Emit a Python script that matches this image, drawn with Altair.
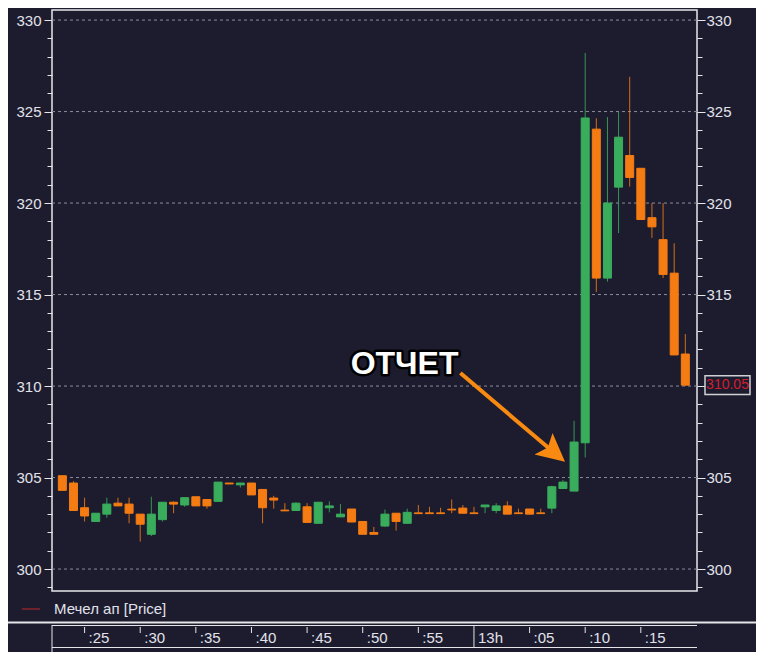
import altair as alt
import pandas as pd

BG = "#1c1c2e"
FRAME = "#e6e6ea"
GRID = "#8c8c9c"
GREEN = "#3aad5c"
ORANGE = "#f57c13"
ARROW = "#f88a12"
LABEL = "#e2e2ea"
PRICE_RED = "#d21f2e"
FONT = "Liberation Sans"

# ---- data (1-minute candles, minutes after 12:00) ----
minutes = list(range(23, 80))
opens = [305.10, 304.70, 303.35, 302.60, 303.00, 303.60, 303.55, 303.00, 301.90, 302.70,
         303.65, 303.50, 303.95, 303.80, 303.70, 304.70, 304.60, 304.70, 304.35, 303.88,
         303.22, 303.20, 303.40, 302.50, 303.35, 302.85, 303.28, 302.60, 302.00, 302.35,
         303.05, 302.50, 303.07, 303.07, 303.07, 303.27, 303.33, 303.07, 303.40, 303.20,
         303.45, 303.07, 303.28, 303.07, 303.33, 304.40, 304.26, 306.90, 324.04, 315.90,
         320.87, 322.60, 321.90, 319.20, 318.00, 316.17, 311.75]
highs = [305.10, 304.80, 303.90, 303.05, 303.90, 303.90, 303.90, 303.00, 303.95, 303.65,
         303.70, 303.90, 303.95, 303.80, 304.75, 304.70, 304.70, 304.70, 304.35, 304.00,
         303.60, 303.65, 303.60, 303.65, 303.70, 303.55, 303.28, 302.60, 302.30, 303.25,
         303.05, 303.30, 303.50, 303.40, 303.35, 303.80, 303.50, 303.40, 303.50, 303.60,
         303.70, 303.30, 303.28, 303.30, 304.55, 304.86, 308.10, 328.20, 324.64, 324.70,
         325.00, 326.90, 321.90, 320.00, 320.00, 317.80, 312.84]
lows = [304.30, 303.20, 302.60, 302.60, 302.80, 303.45, 302.50, 301.50, 301.80, 302.60,
        303.05, 303.40, 303.45, 303.30, 303.70, 304.65, 304.45, 304.05, 302.50, 303.30,
        303.18, 303.20, 302.55, 302.50, 303.10, 302.85, 302.57, 301.90, 301.90, 302.30,
        302.10, 302.50, 303.03, 303.03, 303.03, 303.05, 303.05, 303.03, 303.05, 303.05,
        303.00, 303.03, 303.00, 303.03, 303.05, 304.40, 304.26, 306.10, 315.14, 315.70,
        318.36, 320.90, 319.10, 318.10, 315.90, 311.70, 310.00]
closes = [304.30, 303.20, 302.90, 303.05, 303.55, 303.45, 303.05, 302.45, 303.00, 303.65,
          303.55, 303.90, 303.45, 303.45, 304.75, 304.65, 304.70, 304.05, 303.35, 303.77,
          303.18, 303.60, 302.55, 303.65, 303.45, 303.00, 302.57, 301.90, 301.90, 303.00,
          302.60, 303.10, 303.03, 303.03, 303.03, 303.23, 303.05, 303.03, 303.50, 303.45,
          303.00, 303.03, 303.00, 303.03, 304.50, 304.75, 306.94, 324.65, 315.90, 320.00,
          323.60, 321.40, 319.10, 318.70, 316.10, 311.70, 310.05]

tick_minutes = [25, 30, 35, 40, 45, 50, 55, 60, 65, 70, 75]
tick_labels = [":25", ":30", ":35", ":40", ":45", ":50", ":55", "13h", ":05", ":10", ":15"]
grid_levels = [300, 305, 310, 315, 320, 325, 330]
axis_ticks = list(range(299, 331))

annotation_text = "ОТЧЕТ"
legend_label = "Мечел ап [Price]"

# ---- tables ----
df = pd.DataFrame({"m": minutes, "open": opens, "high": highs, "low": lows, "close": closes})
df["dir"] = ["up" if c >= o else "down" for o, c in zip(opens, closes)]
grid_df = pd.DataFrame({"p": grid_levels})
ticks_df = pd.DataFrame({"m": tick_minutes, "label": tick_labels})
last_df = pd.DataFrame({"p": [closes[-1]], "lbl": [f"{closes[-1]:.2f}"]})
ann_df = pd.DataFrame({"m": [53.76], "p": [311.23], "t": [annotation_text]})
arrow_df = pd.DataFrame({"m": [58.78, 67.22], "p": [310.71, 306.35]})
head_df = pd.DataFrame({"m": [67.22], "p": [306.35]})
legend_df = pd.DataFrame({"t": [legend_label]})
one = pd.DataFrame({"k": [0]})
covered_level = int(round(closes[-1] / 5) * 5)   # right-axis label hidden by the price tag

xs = alt.Scale(domain=[22.52, 79.6], nice=False, zero=False)
ys = alt.Scale(domain=[298.8, 330.55], nice=False, zero=False)
X = alt.X("m:Q", scale=xs, axis=None, title=None)
dir_scale = alt.Scale(domain=["up", "down"], range=[GREEN, ORANGE])

major = "datum.value % 5 === 0"
common_axis = dict(
    values=axis_ticks, format="d",
    tickSize={"condition": {"test": major, "value": 8}, "value": 5},
    tickColor=FRAME, tickWidth=1, labelColor=LABEL, labelFont=FONT, labelFontSize=15,
    domain=False, grid=False, labelOverlap=False, labelFlush=False, title=None,
)
left_axis = alt.Axis(orient="left", labelPadding=3,
                     labelExpr=f"{major} ? datum.label : ''", **common_axis)
right_axis = alt.Axis(orient="right", labelPadding=1,
                      labelExpr=f"{major} && datum.value !== {covered_level} ? datum.label : ''",
                      **common_axis)

grid = alt.Chart(grid_df).mark_rule(color=GRID, strokeWidth=1, strokeDash=[3, 3]).encode(
    y=alt.Y("p:Q", scale=ys, axis=None, title=None))

wicks = alt.Chart(df).mark_rule(strokeWidth=1, opacity=0.85).encode(
    x=X,
    y=alt.Y("low:Q", scale=ys, axis=None, title=None),
    y2="high:Q",
    color=alt.Color("dir:N", scale=dir_scale, legend=None),
)
bodies = alt.Chart(df).mark_bar(size=8, strokeWidth=1).encode(
    x=X,
    y=alt.Y("open:Q", scale=ys, axis=None, title=None),
    y2="close:Q",
    color=alt.Color("dir:N", scale=dir_scale, legend=None),
    stroke=alt.Stroke("dir:N", scale=dir_scale, legend=None),
)

arrow_line = alt.Chart(arrow_df).mark_line(color=ARROW, strokeWidth=4, strokeCap="butt").encode(
    x=X, y=alt.Y("p:Q", scale=ys, axis=None, title=None))
arrow_head = alt.Chart(head_df).mark_point(
    shape="M0,-1L1,1L0,0.6L-1,1Z", size=784, angle=130, filled=True,
    color=ARROW, opacity=1).encode(
    x=X, y=alt.Y("p:Q", scale=ys, axis=None, title=None))
ann_outline = alt.Chart(ann_df).mark_text(
    font=FONT, fontSize=32, fontWeight="bold", color="black", stroke="black",
    strokeWidth=5, strokeJoin="round", baseline="middle", align="center").encode(
    x=X, y=alt.Y("p:Q", scale=ys, axis=None, title=None), text="t:N")
ann_text = alt.Chart(ann_df).mark_text(
    font=FONT, fontSize=32, fontWeight="bold", color="white",
    baseline="middle", align="center").encode(
    x=X, y=alt.Y("p:Q", scale=ys, axis=None, title=None), text="t:N")

price_box = alt.Chart(last_df).mark_point(
    shape="M-1,-0.42L1,-0.42L1,0.42L-1,0.42Z", size=2025, filled=True,
    fill=BG, stroke="#cfcfd6", strokeWidth=1.5, opacity=1).encode(
    x=alt.value(675.5), y=alt.Y("p:Q", scale=ys, axis=None, title=None))
price_txt = alt.Chart(last_df).mark_text(
    font=FONT, fontSize=14, color=PRICE_RED, baseline="middle", align="center").encode(
    x=alt.value(675.5), y=alt.Y("p:Q", scale=ys, axis=None, title=None), text="lbl:N")

# legend row (pixel offsets from the plot's top-left corner)
legend_line = alt.Chart(one).mark_rule(color="#c0282a", strokeWidth=1).encode(
    x=alt.value(-30), x2=alt.value(-12), y=alt.value(599))
legend_txt = alt.Chart(legend_df).mark_text(
    font=FONT, fontSize=15, color=LABEL, align="left", baseline="middle").encode(
    x=alt.value(2), y=alt.value(599), text="t:N")

# separators and time-axis box
sep_line = alt.Chart(one).mark_rule(color=FRAME, strokeWidth=2).encode(
    x=alt.value(-44), x2=alt.value(704), y=alt.value(612.5))
box_top = alt.Chart(one).mark_rule(color=FRAME, strokeWidth=1).encode(
    x=alt.value(0), x2=alt.value(645), y=alt.value(615.5))
box_bottom = alt.Chart(one).mark_rule(color=FRAME, strokeWidth=1).encode(
    x=alt.value(0), x2=alt.value(645), y=alt.value(637.5))
box_left = alt.Chart(one).mark_rule(color=FRAME, strokeWidth=1).encode(
    x=alt.value(0), y=alt.value(615), y2=alt.value(642))

tick_short = alt.Chart(ticks_df).transform_filter(
    "indexof(datum.label, 'h') < 0").mark_rule(color=FRAME, strokeWidth=1).encode(
    x=X, y=alt.value(617), y2=alt.value(623))
tick_long = alt.Chart(ticks_df).transform_filter(
    "indexof(datum.label, 'h') >= 0").mark_rule(color=FRAME, strokeWidth=1).encode(
    x=X, y=alt.value(616), y2=alt.value(637))
tick_txt = alt.Chart(ticks_df).mark_text(
    font=FONT, fontSize=15, color=LABEL, align="left", baseline="alphabetic", dx=4).encode(
    x=X, y=alt.value(633), text="label:N")

main = alt.layer(grid, wicks, bodies, arrow_line, arrow_head, ann_outline, ann_text,
                 price_box, price_txt, legend_line, legend_txt, sep_line, box_top,
                 box_bottom, box_left, tick_short, tick_long, tick_txt)

left_layer = alt.Chart(grid_df).mark_rule(opacity=0).encode(
    y=alt.Y("p:Q", scale=ys, axis=left_axis, title=None))
right_layer = alt.Chart(grid_df).mark_rule(opacity=0).encode(
    y=alt.Y("p:Q", scale=ys, axis=right_axis, title=None))

CSS = f"html,body{{background:{BG}}} .vega-embed svg{{display:block}}"

chart = alt.layer(main, left_layer, right_layer).resolve_scale(y="independent").properties(
    width=645, height=581,
    autosize=alt.AutoSizeParams(type="none"),
    padding={"left": 44, "top": 2, "right": 59, "bottom": 61},
    background=BG,
    usermeta={"embedOptions": {"defaultStyle": CSS}},
).configure_view(stroke=FRAME, strokeWidth=1.5, fill=BG)

chart.save("out.html", embed_options={"renderer": "svg", "actions": False})
